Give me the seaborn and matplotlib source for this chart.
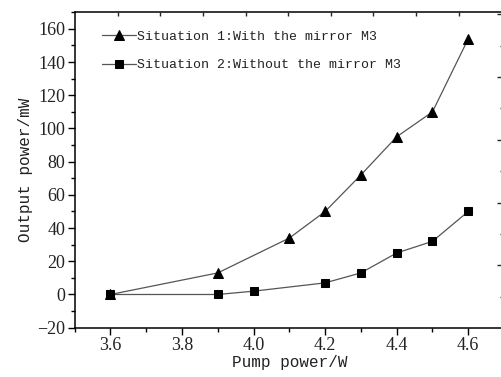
import numpy as np
import pandas as pd
import matplotlib
matplotlib.use("Agg")
import matplotlib.pyplot as plt
import seaborn as sns

# values
pump_1 = [3.6, 3.9, 4.1, 4.2, 4.3, 4.4, 4.5, 4.6]
power_1 = [0, 13, 34, 50, 72, 95, 110, 154]
pump_2 = [3.6, 3.9, 4.0, 4.2, 4.3, 4.4, 4.5, 4.6]
power_2 = [0, 0, 2, 7, 13, 25, 32, 50]
label_1 = "Situation 1:With the mirror M3"
label_2 = "Situation 2:Without the mirror M3"
xtick_vals = [3.6, 3.8, 4.0, 4.2, 4.4, 4.6]
ytick_vals = list(range(-20, 161, 20))

df1 = pd.DataFrame({"pump": pump_1, "power": power_1})
df2 = pd.DataFrame({"pump": pump_2, "power": power_2})

sns.set_style("white")
mono = ["Liberation Mono", "DejaVu Sans Mono"]
serif = ["Liberation Serif", "DejaVu Serif"]
plt.rcParams["font.family"] = serif

fig = plt.figure(figsize=(5.01, 3.77), dpi=100)
ax = fig.add_axes([0.149, 0.1308, 0.857, 0.8366])

line_kw = dict(color="#555555", linewidth=0.9,
               markerfacecolor="black", markeredgecolor="black")
sns.lineplot(data=df1, x="pump", y="power", marker="^", markersize=6.5, label=label_1, ax=ax, **line_kw)
sns.lineplot(data=df2, x="pump", y="power", marker="s", markersize=5.8, label=label_2, ax=ax, **line_kw)

ax.set_xlim(3.5, 4.7)
ax.set_ylim(-20, 170)
ax.set_xticks(xtick_vals)
ax.set_xticks(np.arange(3.5, 4.71, 0.1), minor=True)
ax.set_yticks(ytick_vals)
ax.set_yticks(np.arange(-20, 171, 10), minor=True)
ax.set_xticklabels([f"{v:.1f}" for v in xtick_vals])
ax.set_yticklabels([str(v).replace("-", "\u2212") for v in ytick_vals])
for lbl in ax.get_xticklabels() + ax.get_yticklabels():
    lbl.set_fontfamily(serif)
    lbl.set_fontsize(13)
    lbl.set_color("#222222")
ax.tick_params(which="major", direction="out", length=5, width=1, pad=1.5, color="black",
               left=True, bottom=True)
ax.tick_params(which="minor", direction="out", length=3, width=1, color="black",
               left=True, bottom=True)

ax.set_xlabel("Pump power/W", family=mono, fontsize=11.5, color="#222222", labelpad=1)
ax.set_ylabel("Output power/mW", family=mono, fontsize=11.5, color="#222222", labelpad=3)

for s in ax.spines.values():
    s.set_visible(True)
    s.set_color("black")
    s.set_linewidth(1.1)

# mirror ticks on top and right (inward, no labels)
top = ax.twiny()
top.set_xlim(ax.get_xlim())
top.set_xticks(np.arange(3.62, 4.62, 0.1192))
top.tick_params(axis="x", direction="in", length=3, width=1, labeltop=False, top=True)
right = ax.twinx()
right.set_ylim(ax.get_ylim())
right.set_yticks(np.arange(17.6, 170, 37.8))
right.set_yticks(np.arange(-1.3, 170, 37.8), minor=True)
right.tick_params(axis="y", which="major", direction="in", length=5, width=1, labelright=False, right=True)
right.tick_params(axis="y", which="minor", direction="in", length=3, width=1, right=True)
for a in (top, right):
    for s in a.spines.values():
        s.set_visible(False)
    a.grid(False)

leg = ax.legend(loc="upper left", bbox_to_anchor=(0.035, 0.98), frameon=False,
                prop={"family": mono, "size": 9.5}, handlelength=2.6, handletextpad=0.1,
                labelspacing=1.25, numpoints=1, labelcolor="#222222")

fig.savefig("out.png", dpi=100)
